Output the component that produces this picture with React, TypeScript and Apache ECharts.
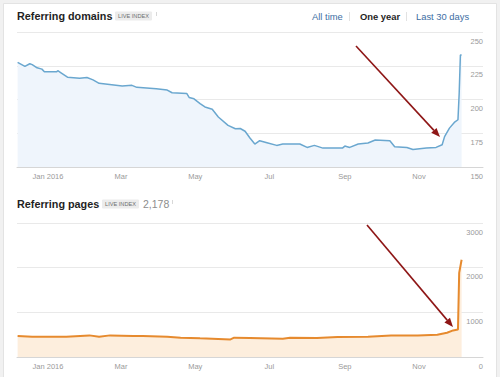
import React, { useEffect, useRef } from "react";
import * as echarts from "echarts";

// Referring domains (top chart)
const domainDates = [
  "2015-12-07", "2015-12-13", "2015-12-17", "2015-12-19", "2015-12-23", "2015-12-27", "2015-12-29",
  "2016-01-08", "2016-01-09", "2016-01-12", "2016-01-17", "2016-01-27", "2016-02-02", "2016-02-07",
  "2016-02-12", "2016-03-02", "2016-03-10", "2016-03-14", "2016-03-30", "2016-04-08", "2016-04-12",
  "2016-04-24", "2016-04-26", "2016-04-30", "2016-05-05", "2016-05-09", "2016-05-15", "2016-05-20",
  "2016-05-28", "2016-06-03", "2016-06-07", "2016-06-11", "2016-06-15", "2016-06-19", "2016-06-23",
  "2016-06-29", "2016-07-07", "2016-07-12", "2016-07-26", "2016-08-01", "2016-08-07", "2016-08-14",
  "2016-08-30", "2016-09-01", "2016-09-05", "2016-09-12", "2016-09-20", "2016-09-26", "2016-10-08",
  "2016-10-12", "2016-10-22", "2016-10-27", "2016-11-07", "2016-11-15", "2016-11-20", "2016-11-22",
  "2016-11-26", "2016-11-30", "2016-12-03", "2016-12-04", "2016-12-05", "2016-12-06",
];
const domainValues = [
  227.5, 224.5, 226.5, 225.8, 223.5, 222.5, 220.5,
  220.5, 221.3, 219.5, 216.5, 215.8, 216.3, 214.5,
  212, 210, 210.5, 209, 208, 207, 205,
  204.5, 201.5, 200.5, 197, 194.5, 192.8, 187,
  180.8, 178.3, 178.5, 176.5, 171.5, 167, 169.5,
  168, 166, 167, 167, 164.5, 166, 164,
  164, 165.5, 164.5, 167, 167.8, 170, 169.5,
  165, 164.5, 163, 164, 164.5, 166.5, 172.5,
  178.8, 183, 185, 204.5, 233, 233,
];

// Referring pages (bottom chart)
const pageDates = [
  "2015-12-07", "2015-12-19", "2016-01-16", "2016-02-04", "2016-02-12", "2016-02-21", "2016-03-11",
  "2016-03-19", "2016-04-08", "2016-04-19", "2016-05-05", "2016-05-30", "2016-06-02", "2016-06-15",
  "2016-07-12", "2016-07-18", "2016-08-09", "2016-08-26", "2016-09-20", "2016-10-09", "2016-10-31",
  "2016-11-16", "2016-11-24", "2016-11-29", "2016-12-03", "2016-12-04", "2016-12-06",
];
const pageValues = [
  469, 454, 454, 484, 454, 484, 469,
  469, 454, 432, 417, 394, 432, 424,
  409, 432, 424, 446, 454, 484, 484,
  498, 543, 595, 617, 1882, 2178,
];

const monthLabels = ["Jan", "Feb", "Mar", "Apr", "May", "Jun", "Jul", "Aug", "Sep", "Oct", "Nov", "Dec"];
const rangeButtons = ["All time", "One year", "Last 30 days"];
const titles = ["Referring domains", "Referring pages"];
const badgeText = "LIVE INDEX";
const pagesTotal = "2,178";

const FONT = "'Helvetica Neue', Arial, 'Liberation Sans', sans-serif";
const DAY = 86400000;

export default function App() {
  const ref = useRef<HTMLDivElement>(null);

  useEffect(() => {
    if (!ref.current) return;
    const chart = echarts.init(ref.current, undefined, { renderer: "svg" });

    const xMin = new Date(2015, 11, 6, 12).getTime();
    const xMax = new Date(2016, 11, 23, 14).getTime();

    const xAxisCommon = (gridIndex: number) => ({
      type: "time" as const,
      gridIndex,
      min: xMin,
      max: xMax,
      splitNumber: 6,
      minInterval: 62 * DAY,
      maxInterval: 62 * DAY,
      axisLine: { lineStyle: { color: "#d6d6d6", width: 1 } },
      axisTick: { show: true, inside: true, length: 3, lineStyle: { color: "#cfcfcf" } },
      splitLine: { show: false },
      axisLabel: {
        color: "#9a9a9a",
        fontSize: 7.5,
        fontFamily: FONT,
        margin: 5,
        showMinLabel: false,
        showMaxLabel: false,
        hideOverlap: false,
        formatter: (v: number) => {
          const d = new Date(v);
          const m = d.getMonth();
          return m === 0 ? `${monthLabels[0]} ${d.getFullYear()}` : monthLabels[m];
        },
      },
    });

    const yAxisCommon = (gridIndex: number, min: number, max: number, interval: number) => ({
      type: "value" as const,
      gridIndex,
      position: "right" as const,
      min,
      max,
      interval,
      axisLine: { show: false },
      axisTick: { show: false },
      splitLine: { show: true, lineStyle: { color: "#e9e9e9", width: 1 } },
      axisLabel: {
        inside: true,
        margin: 0,
        color: "#9a9a9a",
        fontSize: 7.5,
        fontFamily: FONT,
        verticalAlign: "top",
        lineHeight: 8,
        padding: [5, 0, 0, 0],
        showMinLabel: true,
        showMaxLabel: true,
        formatter: (v: number) => String(v),
      },
    });

    const headerText = (text: string, x: number, y: number, opts: any = {}) => ({
      type: "text",
      x,
      y,
      style: {
        text,
        fill: opts.fill || "#222",
        font: `${opts.weight || "normal"} ${opts.size || 10}px ${FONT}`,
        verticalAlign: "middle",
        align: opts.align || "left",
      },
      z: 10,
    });

    const badge = (x: number, y: number) => ({
      type: "group",
      x,
      y,
      z: 10,
      children: [
        { type: "rect", shape: { x: 0, y: 0, width: 37, height: 9, r: 1 }, style: { fill: "#ececec" } },
        {
          type: "text",
          x: 18.5,
          y: 4.8,
          style: {
            text: badgeText,
            fill: "#6f6f6f",
            font: `normal 5.6px ${FONT}`,
            align: "center",
            verticalAlign: "middle",
          },
        },
      ],
    });

    const arrow = (x1: number, y1: number, x2: number, y2: number) => {
      const dx = x2 - x1;
      const dy = y2 - y1;
      const len = Math.sqrt(dx * dx + dy * dy);
      const ux = dx / len;
      const uy = dy / len;
      const bx = x2 - ux * 9;
      const by = y2 - uy * 9;
      const px = -uy * 3.6;
      const py = ux * 3.6;
      return [
        {
          type: "line",
          shape: { x1, y1, x2: bx, y2: by },
          style: { stroke: "#8e1616", lineWidth: 1.6 },
          z: 20,
        },
        {
          type: "polygon",
          shape: { points: [[x2, y2], [bx + px, by + py], [bx - px, by - py]] },
          style: { fill: "#8e1616" },
          z: 20,
        },
      ];
    };

    const option: any = {
      animation: false,
      backgroundColor: "#f1f1f1",
      textStyle: { fontFamily: FONT },
      grid: [
        { left: 17, right: 17, top: 32, height: 135 },
        { left: 17, right: 17, top: 223, height: 134 },
      ],
      xAxis: [xAxisCommon(0), xAxisCommon(1)],
      yAxis: [yAxisCommon(0, 150, 250, 25), yAxisCommon(1, 0, 3000, 1000)],
      series: [
        {
          type: "line",
          xAxisIndex: 0,
          yAxisIndex: 0,
          data: domainDates.map((d, i) => [d, domainValues[i]]),
          showSymbol: false,
          symbol: "none",
          lineStyle: { color: "#6aa7cf", width: 1.5 },
          areaStyle: { color: "#eff5fc", opacity: 1 },
          z: 3,
        },
        {
          type: "line",
          xAxisIndex: 1,
          yAxisIndex: 1,
          data: pageDates.map((d, i) => [d, pageValues[i]]),
          showSymbol: false,
          symbol: "none",
          lineStyle: { color: "#e68a2e", width: 2 },
          areaStyle: { color: "#fdeedd", opacity: 1 },
          z: 3,
        },
      ],
      graphic: [
        {
          type: "rect",
          shape: { x: 3.5, y: 3.5, width: 493, height: 380 },
          style: { fill: "#ffffff", stroke: "#e3e3e3", lineWidth: 1 },
          z: -10,
          silent: true,
        },
        headerText(titles[0], 17, 15.5, { weight: "bold", size: 10.8, fill: "#1f1f1f" }),
        badge(115, 11.5),
        { type: "line", shape: { x1: 156.5, y1: 12, x2: 156.5, y2: 16 }, style: { stroke: "#d8d8d8", lineWidth: 1 }, z: 10 },
        headerText(rangeButtons[0], 312, 16, { size: 9.4, fill: "#3d6ea3" }),
        { type: "line", shape: { x1: 349.5, y1: 12, x2: 349.5, y2: 21 }, style: { stroke: "#e2e2e2", lineWidth: 1 }, z: 10 },
        headerText(rangeButtons[1], 360, 16, { size: 9.4, weight: "bold", fill: "#1f1f1f" }),
        { type: "line", shape: { x1: 406.5, y1: 12, x2: 406.5, y2: 21 }, style: { stroke: "#e2e2e2", lineWidth: 1 }, z: 10 },
        headerText(rangeButtons[2], 416, 16, { size: 9.4, fill: "#3d6ea3" }),
        headerText(titles[1], 17, 203.5, { weight: "bold", size: 10.8, fill: "#1f1f1f" }),
        badge(102, 199.5),
        headerText(pagesTotal, 143, 203.5, { size: 10.5, fill: "#8d8d8d" }),
        { type: "line", shape: { x1: 172.5, y1: 200, x2: 172.5, y2: 204 }, style: { stroke: "#d8d8d8", lineWidth: 1 }, z: 10 },
        ...arrow(356, 46, 440, 137),
        ...arrow(367, 225, 453, 327),
      ],
    };

    chart.setOption(option);
    return () => chart.dispose();
  }, []);

  return (
    <div
      ref={ref}
      style={{ position: "fixed", left: 0, top: 0, width: 500, height: 377 }}
    />
  );
}
